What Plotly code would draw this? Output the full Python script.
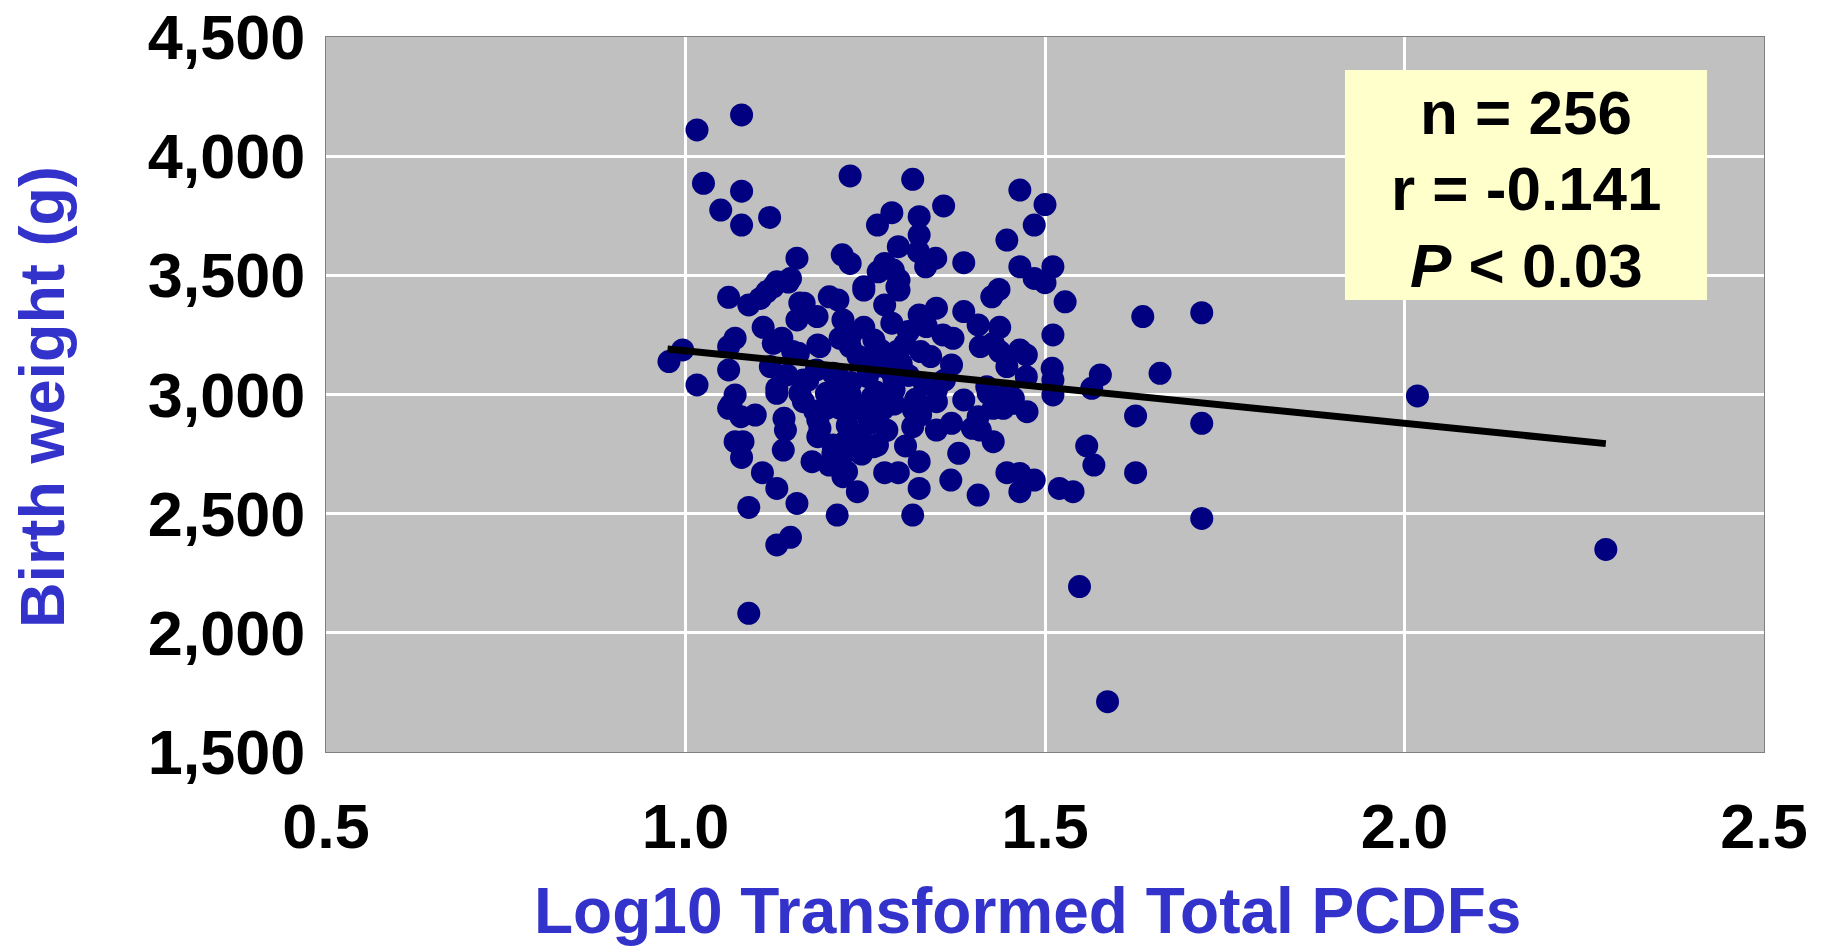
import plotly.graph_objects as go

# Log10 transformed total PCDFs (x) and birth weight in grams (y)
log_pcdf = [
    1.016, 1.078, 1.025, 1.078, 1.049, 1.078, 1.117, 1.229, 1.316, 1.359, 1.325, 1.287, 1.267, 1.325,
    1.296, 1.324, 1.348, 1.334, 1.387, 1.465, 1.500, 1.485, 1.447, 1.465, 1.485, 1.500, 1.511, 1.155,
    1.218, 1.229, 1.277, 1.268, 1.289, 1.297, 1.297, 1.248, 1.146, 1.127, 1.113, 1.104, 1.060, 1.088,
    1.200, 1.212, 1.165, 1.183, 1.155, 1.219, 1.277, 1.287, 1.325, 1.349, 1.333, 1.387, 1.407, 1.426,
    1.436, 1.437, 1.511, 1.108, 1.069, 1.060, 1.134, 1.122, 1.248, 1.229, 1.187, 1.157, 0.996, 0.977,
    1.060, 1.016, 1.118, 1.372, 1.410, 1.428, 1.465, 1.474, 1.447, 1.370, 1.510, 1.474,
    1.122, 1.143, 1.159, 1.149, 1.184, 1.141, 1.164, 1.127, 1.159, 1.196, 1.182, 1.205,
    1.248, 1.294, 1.310, 1.335, 1.358, 1.437, 1.215, 1.229, 1.262, 1.271, 1.294, 1.327, 1.341, 1.212,
    1.253, 1.290, 1.332, 1.219, 1.290, 1.349, 1.419, 1.442,
    1.577, 1.565, 1.511, 1.511, 1.456,
    1.528, 1.636, 1.718, 1.660, 1.626, 1.718, 1.558, 1.568, 1.626, 1.718, 1.548, 1.587, 2.018, 2.280,
    1.069, 1.060, 1.077, 1.097, 1.127, 1.137, 1.139, 1.069, 1.080, 1.078, 1.136, 1.107, 1.127, 1.155,
    1.088, 1.127, 1.146, 1.088, 1.176, 1.211, 1.239, 1.219, 1.200, 1.277, 1.296, 1.325, 1.316, 1.325,
    1.306, 1.267, 1.257, 1.229, 1.238, 1.198, 1.184, 1.184, 1.224, 1.233, 1.243, 1.205, 1.317, 1.327,
    1.316, 1.349, 1.349, 1.370, 1.387, 1.380, 1.369, 1.407, 1.407, 1.428, 1.410, 1.428, 1.421, 1.456,
    1.475, 1.447, 1.465, 1.465, 1.485, 1.520, 1.539,
    1.063, 1.164, 1.187, 1.196, 1.205, 1.215, 1.262, 1.215, 1.224, 1.399, 1.442,
    1.250, 1.270, 1.230, 1.285, 1.300, 1.260, 1.240, 1.310, 1.275, 1.255, 1.225, 1.290, 1.305, 1.180,
    1.170, 1.280, 1.265, 1.245, 1.320, 1.360,
]
birth_weight = [
    4110, 4173, 3886, 3853, 3774, 3711, 3743, 3917, 3903, 3791, 3746, 3763, 3711, 3669,
    3620, 3599, 3572, 3536, 3553, 3858, 3797, 3711, 3648, 3536, 3487, 3469, 3536, 3572,
    3586, 3550, 3550, 3515, 3522, 3480, 3438, 3438, 3487, 3473, 3431, 3403, 3408, 3376,
    3410, 3397, 3383, 3327, 3313, 3313, 3376, 3299, 3334, 3362, 3299, 3348, 3292, 3410,
    3441, 3282, 3250, 3282, 3236, 3201, 3236, 3215, 3282, 3243, 3201, 3173, 3187, 3138,
    3103, 3040, 3117, 3236, 3201, 3215, 3187, 3166, 3117, 3124, 3110, 3075,
    3452, 3472, 3384, 3180, 3208, 3082, 3061, 3005, 3005, 3005, 3103, 3089,
    3452, 3452, 3264, 3285, 3250, 3180, 3236, 3201, 3229, 3187, 3180, 3180, 3159, 3075,
    3075, 3061, 3047, 3005, 3019, 3019, 3033, 2991,
    3082, 3026, 3061, 2998, 2984,
    3389, 3327, 3343, 3089, 2910, 2879, 2784, 2704, 2672, 2480, 2194, 1711, 2994, 2350,
    2998, 2942, 2907, 2914, 3026, 2900, 2851, 2802, 2802, 2736, 2767, 2672, 2606, 2543,
    2526, 2369, 2401, 2082, 2718, 2494, 2592, 2655, 2704, 2672, 2672, 2606, 2494, 2718,
    2784, 2788, 2879, 2998, 2942, 2984, 2893, 2823, 2809, 2767, 2830, 2753, 2935, 2914,
    2865, 2970, 2851, 2879, 2977, 2753, 2641, 2578, 2907, 2802, 2851, 2942, 3005, 2963,
    2928, 2672, 2669, 2592, 2641, 2606, 2592,
    2956, 2970, 2858, 2942, 2788, 2942, 2781, 2718, 2676, 2858, 2942,
    3150, 3120, 3050, 3100, 3130, 2990, 3160, 3080, 2940, 2900, 2870, 2960, 3210, 2930,
    3060, 2850, 3010, 2750, 2980, 3060,
]

# Least-squares trend line drawn in the reference
trend_x = [0.975, 2.28]
trend_slope = -304.0
trend_intercept = 3487.0
trend_y = [trend_intercept + trend_slope * v for v in trend_x]

x_ticks = [0.5, 1.0, 1.5, 2.0, 2.5]
y_ticks = [1500, 2000, 2500, 3000, 3500, 4000, 4500]

stats_lines = ["n = 256", "r = -0.141", "<i>P</i> &lt; 0.03"]

FONT = "Liberation Sans, Arial, sans-serif"
BLUE = "#3333CC"

fig = go.Figure()
fig.add_trace(go.Scatter(
    x=log_pcdf, y=birth_weight, mode="markers",
    marker=dict(color="#000080", size=23, line=dict(width=0)),
    showlegend=False, hoverinfo="x+y",
))
fig.add_trace(go.Scatter(
    x=trend_x, y=trend_y, mode="lines",
    line=dict(color="black", width=7),
    showlegend=False,
))

tick_font = dict(family=FONT, size=63, color="black", weight="bold")

fig.update_layout(
    width=1823, height=952, autosize=False,
    margin=dict(l=326, r=59, t=37, b=200, pad=0),
    paper_bgcolor="white", plot_bgcolor="#C0C0C0",
    xaxis=dict(
        range=[0.5, 2.5], tickvals=x_ticks, ticktext=[f"{v:.1f}" for v in x_ticks],
        showgrid=True, gridcolor="white", gridwidth=3, zeroline=False,
        showline=True, linecolor="#808080", linewidth=1, mirror=True,
        ticks="outside", ticklen=19, tickcolor="rgba(0,0,0,0)",
        tickfont=tick_font, automargin=False,
    ),
    yaxis=dict(
        range=[1500, 4500], tickvals=y_ticks, ticktext=[f"{v:,}" for v in y_ticks],
        showgrid=True, gridcolor="white", gridwidth=3, zeroline=False,
        showline=True, linecolor="#808080", linewidth=1, mirror=True,
        ticks="outside", ticklen=7, tickcolor="rgba(0,0,0,0)",
        tickfont=tick_font, automargin=False,
    ),
    shapes=[dict(
        type="rect", xref="paper", yref="paper",
        x0=0.7086, x1=0.9604, y0=0.6322, y1=0.9538,
        fillcolor="#FFFFCC", line=dict(width=0), layer="above",
    )],
)

fig.add_annotation(
    text="Log10 Transformed Total PCDFs", xref="paper", yref="paper",
    x=0.488, y=-0.222, xanchor="center", yanchor="middle",
    showarrow=False, font=dict(family=FONT, size=64, color=BLUE, weight="bold"),
)
fig.add_annotation(
    text="Birth weight (g)", xref="paper", yref="paper",
    x=-0.198, y=0.497, xanchor="center", yanchor="middle",
    textangle=-90, showarrow=False, font=dict(family=FONT, size=63, color=BLUE, weight="bold"),
)

stat_y = [0.894, 0.788, 0.681]
for txt, yy in zip(stats_lines, stat_y):
    fig.add_annotation(
        text=txt, xref="paper", yref="paper", x=0.8345, y=yy,
        xanchor="center", yanchor="middle", showarrow=False,
        font=dict(family=FONT, size=62, color="black", weight="bold"),
    )

fig.write_html("out.html")
